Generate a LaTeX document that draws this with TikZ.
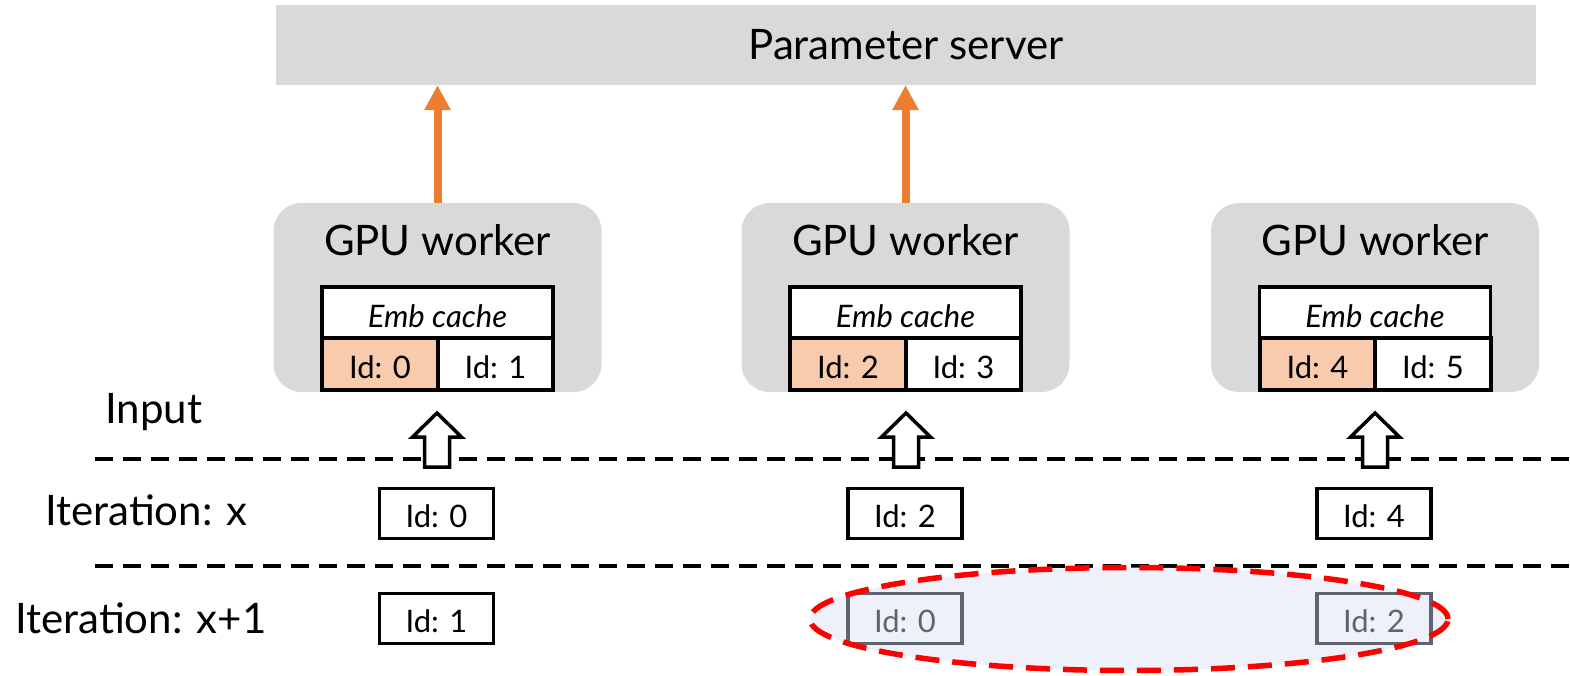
\documentclass[tikz,border=0pt]{standalone}
\usepackage{fontspec}
\setmainfont{Lato}
\usetikzlibrary{arrows.meta,shapes.geometric}
\definecolor{boxgray}{HTML}{D9D9D9}
\definecolor{peach}{HTML}{F8CBAD}
\definecolor{orangeA}{HTML}{ED7D31}
\definecolor{fadegray}{HTML}{5F6470}
\definecolor{ellfill}{HTML}{EEF1FA}
\begin{document}
\begin{tikzpicture}[x=1pt,y=-1pt,
  bigfont/.style={font=\fontsize{42}{48}\selectfont},
  psbox/.style={fill=boxgray, minimum width=1260, minimum height=80, inner sep=0, bigfont, text height=30, text depth=0},
  workerbox/.style={fill=boxgray, rounded corners=28, minimum width=328, minimum height=189, inner sep=0},
  wlabel/.style={bigfont, anchor=base, inner sep=0},
  cachetop/.style={draw, line width=3.8, fill=white, minimum width=231, minimum height=51, inner sep=0, font=\fontsize{31}{36}\selectfont\itshape, text height=29, text depth=0},
  cachecell/.style={draw, line width=3.8, minimum width=115.5, minimum height=52, inner sep=0, font=\fontsize{31}{36}\selectfont, text height=28, text depth=0},
  idbox/.style={draw, line width=3.2, fill=white, minimum width=114, minimum height=50, inner sep=0, font=\fontsize{31}{36}\selectfont, text height=27, text depth=0},
  fadebox/.style={idbox, draw=fadegray, text=fadegray, fill=ellfill},
  orarrow/.style={draw=orangeA, line width=8, -{Triangle[width=25,length=25]}, orangeA},
  blockarrow/.style={draw=black, line width=3.5, fill=white, line join=miter},
  dashline/.style={line width=4, dash pattern=on 18 off 10},
  lbl/.style={bigfont, inner sep=0, anchor=base west}
]
\useasboundingbox (0,0) rectangle (1570,676);

% parameter server
\node[psbox] (ps) at (906,45) {Parameter server};

% workers
\foreach \i/\cx in {1/437.5, 2/905.5, 3/1375}{
  \node[workerbox] (w\i) at (\cx,297.5) {};
  \node[wlabel] (w\i t) at (\cx,255) {GPU worker};
  \node[cachetop] (c\i) at (\cx,312.5) {Emb cache};
}
\node[cachecell, fill=peach] (c1a) at (380,364) {Id: 0};
\node[cachecell, fill=white] (c1b) at (495.5,364) {Id: 1};
\node[cachecell, fill=peach] (c2a) at (848,364) {Id: 2};
\node[cachecell, fill=white] (c2b) at (963.5,364) {Id: 3};
\node[cachecell, fill=peach] (c3a) at (1317.5,364) {Id: 4};
\node[cachecell, fill=white] (c3b) at (1433,364) {Id: 5};

% orange arrows
\draw[orarrow] (w1.north) -- (w1.north |- ps.south);
\draw[orarrow] (w2.north) -- (w2.north |- ps.south);

% dashed separators
\coordinate (d1s) at (95,459);
\coordinate (d1e) at (1570,459);
\coordinate (d2s) at (95,566);
\coordinate (d2e) at (1570,566);
\draw[dashline] (d1s) -- (d1e);
\draw[dashline] (d2s) -- (d2e);

% hollow input arrows
\foreach \i/\ax in {1/437, 2/906, 3/1375}{
  \coordinate (a\i) at (\ax,467);
  \draw[blockarrow, shift={(a\i)}] (-12.5,0) -- (-12.5,-30) -- (-24.5,-30) -- (0,-54) -- (24.5,-30) -- (12.5,-30) -- (12.5,0) -- cycle;
}

% labels
\node[lbl] (inp) at (105,423) {Input};
\node[lbl] (itx) at (45,525) {Iteration: x};
\node[lbl] (itx1) at (15,633) {Iteration: x+1};

% iteration x
\node[idbox] (x0) at (436.5,513.5) {Id: 0};
\node[idbox] (x2) at (905,513.5) {Id: 2};
\node[idbox] (x4) at (1374,513.5) {Id: 4};

% iteration x+1
\node[idbox] (y1) at (436.5,618.5) {Id: 1};
\node[ellipse, fill=ellfill, minimum width=638, minimum height=103, inner sep=0] (ell) at (1129,619) {};
\node[fadebox] (y0) at (905,618.5) {Id: 0};
\node[fadebox] (y2) at (1374,618.5) {Id: 2};
\node[ellipse, draw=red, line width=5.5, dash pattern=on 24 off 13, minimum width=638, minimum height=103, inner sep=0] (ellb) at (ell.center) {};
\end{tikzpicture}
\end{document}
